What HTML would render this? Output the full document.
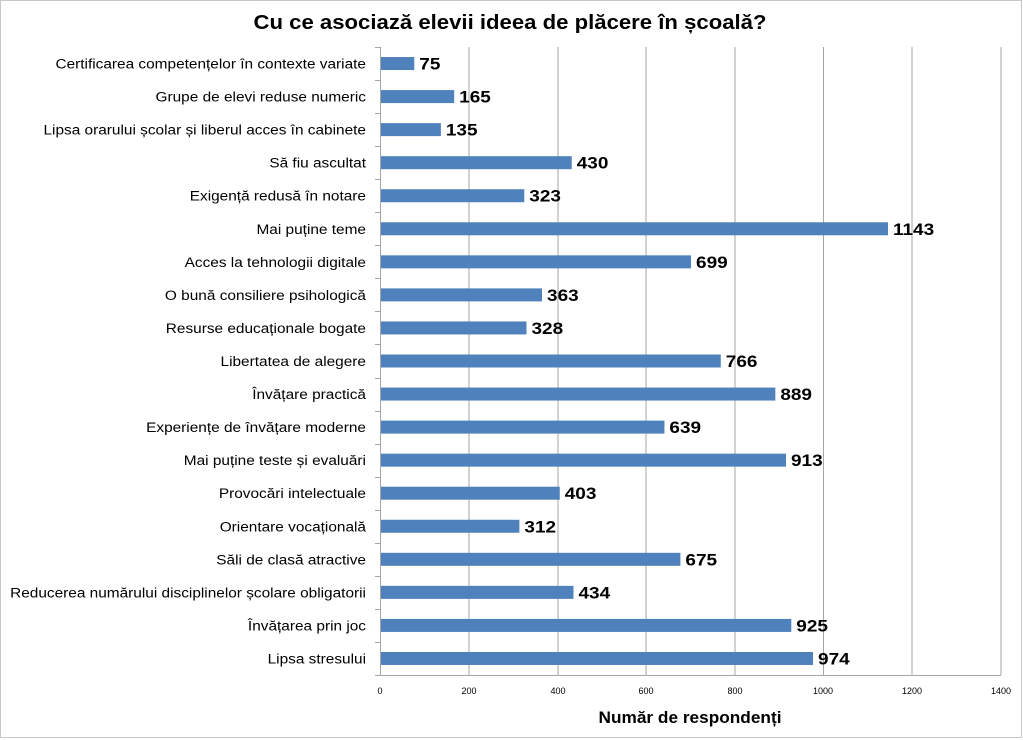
<!DOCTYPE html>
<html><head><meta charset="utf-8"><style>body{margin:0;background:#fff}svg{display:block}</style></head><body>
<svg width="1023" height="740" xmlns="http://www.w3.org/2000/svg" font-family="Liberation Sans, DejaVu Sans, sans-serif">
<rect x="0.5" y="0.5" width="1021" height="737" fill="#fff" stroke="#c8c8c8"/>
<text x="510" y="29" text-anchor="middle" font-size="20" font-weight="bold" textLength="513" lengthAdjust="spacingAndGlyphs">Cu ce asociază elevii ideea de plăcere în școală?</text>
<g stroke="#a6a6a6" stroke-width="1">
<line x1="469" y1="47" x2="469" y2="675"/><line x1="558" y1="47" x2="558" y2="675"/><line x1="646" y1="47" x2="646" y2="675"/><line x1="735" y1="47" x2="735" y2="675"/><line x1="823.5" y1="47" x2="823.5" y2="675"/><line x1="912" y1="47" x2="912" y2="675"/><line x1="1001" y1="47" x2="1001" y2="675"/>
<line x1="380.5" y1="47" x2="380.5" y2="675"/><line x1="380" y1="675.5" x2="1001" y2="675.5"/>
</g>
<g stroke="#a6a6a6" id="ticks"></g>
<g font-size="9" text-anchor="middle" fill="#000">
<text x="380" y="694">0</text><text x="469" y="694">200</text><text x="558" y="694">400</text><text x="646" y="694">600</text><text x="735" y="694">800</text><text x="823" y="694">1000</text><text x="912" y="694">1200</text><text x="1001" y="694">1400</text>
</g>
<text x="690" y="723" text-anchor="middle" font-size="17" font-weight="bold" textLength="183" lengthAdjust="spacingAndGlyphs">Număr de respondenți</text>
<g id="bars"></g>
<script>
var d=[["Certificarea competențelor în contexte variate",75],["Grupe de elevi reduse numeric",165],["Lipsa orarului școlar și liberul acces în cabinete",135],["Să fiu ascultat",430],["Exigență redusă în notare",323],["Mai puține teme",1143],["Acces la tehnologii digitale",699],["O bună consiliere psihologică",363],["Resurse educaționale bogate",328],["Libertatea de alegere",766],["Învățare practică",889],["Experiențe de învățare moderne",639],["Mai puține teste și evaluări",913],["Provocări intelectuale",403],["Orientare vocațională",312],["Săli de clasă atractive",675],["Reducerea numărului disciplinelor școlare obligatorii",434],["Învățarea prin joc",925],["Lipsa stresului",974]];
var ns="http://www.w3.org/2000/svg",g=document.getElementById("bars"),t=document.getElementById("ticks");
function el(n,a,p,tx){var e=document.createElementNS(ns,n);for(var k in a)e.setAttribute(k,a[k]);if(tx)e.textContent=tx;p.appendChild(e);return e;}
var s=628/19;
for(var i=0;i<=19;i++){var y=Math.round(47+s*i)+0.5;el("line",{x1:375,y1:y,x2:380,y2:y},t);}
d.forEach(function(r,i){var c=47+s*(i+0.5),w=r[1]*621/1400;
el("rect",{x:381,y:c-6.5,width:w,height:13,fill:"#4f81bd"},g);
var tx=el("text",{x:366,y:c+5,"text-anchor":"end","font-size":"13.5"},g,r[0]);
var L=tx.getComputedTextLength();tx.setAttribute("textLength",L*1.14);tx.setAttribute("lengthAdjust","spacingAndGlyphs");
var n=el("text",{x:381+w+5,y:c+6,"font-size":"16.5","font-weight":"bold"},g,r[1]);
var L2=n.getComputedTextLength();n.setAttribute("textLength",L2*1.15);n.setAttribute("lengthAdjust","spacingAndGlyphs");});
</script>
</svg>
</body></html>
